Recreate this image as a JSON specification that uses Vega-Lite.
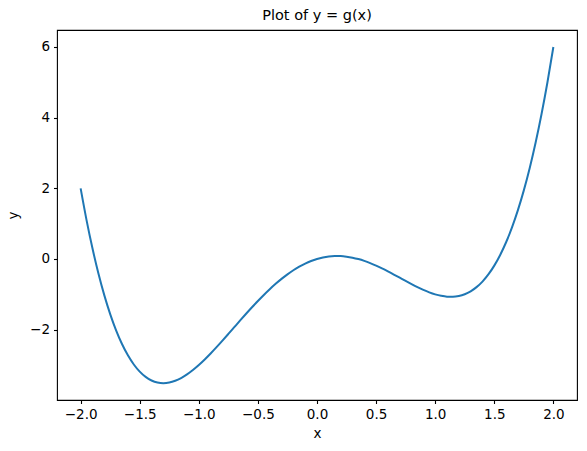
{
  "$schema": "https://vega.github.io/schema/vega-lite/v6.json",
  "width": 520,
  "height": 370,
  "autosize": {"type": "none"},
  "padding": {"left": 57, "top": 30, "right": 10, "bottom": 51},
  "title": {"text": "Plot of y = g(x)", "font": "DejaVu Sans", "fontSize": 14.5, "fontWeight": "normal", "color": "black", "offset": 7, "anchor": "middle"},
  "config": {
    "view": {"stroke": "black", "strokeWidth": 1.1},
    "axis": {
      "grid": false,
      "domain": false,
      "tickColor": "black",
      "tickSize": 3.5,
      "tickWidth": 1.1,
      "labelFont": "DejaVu Sans",
      "labelFontSize": 13.5,
      "labelColor": "black",
      "labelPadding": 4,
      "titleFont": "DejaVu Sans",
      "titleFontSize": 13.5,
      "titleFontWeight": "normal",
      "titleColor": "black"
    }
  },
  "data": {"values": [
    {"x": -2.00, "y": 2.0},
    {"x": -1.95, "y": 1.1015},
    {"x": -1.90, "y": 0.3021},
    {"x": -1.85, "y": -0.404},
    {"x": -1.80, "y": -1.0224},
    {"x": -1.75, "y": -1.5586},
    {"x": -1.70, "y": -2.0179},
    {"x": -1.65, "y": -2.4055},
    {"x": -1.60, "y": -2.7264},
    {"x": -1.55, "y": -2.9855},
    {"x": -1.50, "y": -3.1875},
    {"x": -1.45, "y": -3.337},
    {"x": -1.40, "y": -3.4384},
    {"x": -1.35, "y": -3.496},
    {"x": -1.30, "y": -3.5139},
    {"x": -1.25, "y": -3.4961},
    {"x": -1.20, "y": -3.4464},
    {"x": -1.15, "y": -3.3685},
    {"x": -1.10, "y": -3.2659},
    {"x": -1.05, "y": -3.142},
    {"x": -1.00, "y": -3.0},
    {"x": -0.95, "y": -2.843},
    {"x": -0.90, "y": -2.6739},
    {"x": -0.85, "y": -2.4955},
    {"x": -0.80, "y": -2.3104},
    {"x": -0.75, "y": -2.1211},
    {"x": -0.70, "y": -1.9299},
    {"x": -0.65, "y": -1.739},
    {"x": -0.60, "y": -1.5504},
    {"x": -0.55, "y": -1.366},
    {"x": -0.50, "y": -1.1875},
    {"x": -0.45, "y": -1.0165},
    {"x": -0.40, "y": -0.8544},
    {"x": -0.35, "y": -0.7025},
    {"x": -0.30, "y": -0.5619},
    {"x": -0.25, "y": -0.4336},
    {"x": -0.20, "y": -0.3184},
    {"x": -0.15, "y": -0.217},
    {"x": -0.10, "y": -0.1299},
    {"x": -0.05, "y": -0.0575},
    {"x": 0.00, "y": 0.0},
    {"x": 0.05, "y": 0.0425},
    {"x": 0.10, "y": 0.0701},
    {"x": 0.15, "y": 0.083},
    {"x": 0.20, "y": 0.0816},
    {"x": 0.25, "y": 0.0664},
    {"x": 0.30, "y": 0.0381},
    {"x": 0.35, "y": -0.0025},
    {"x": 0.40, "y": -0.0544},
    {"x": 0.45, "y": -0.1165},
    {"x": 0.50, "y": -0.1875},
    {"x": 0.55, "y": -0.266},
    {"x": 0.60, "y": -0.3504},
    {"x": 0.65, "y": -0.439},
    {"x": 0.70, "y": -0.5299},
    {"x": 0.75, "y": -0.6211},
    {"x": 0.80, "y": -0.7104},
    {"x": 0.85, "y": -0.7955},
    {"x": 0.90, "y": -0.8739},
    {"x": 0.95, "y": -0.943},
    {"x": 1.00, "y": -1.0},
    {"x": 1.05, "y": -1.042},
    {"x": 1.10, "y": -1.0659},
    {"x": 1.15, "y": -1.0685},
    {"x": 1.20, "y": -1.0464},
    {"x": 1.25, "y": -0.9961},
    {"x": 1.30, "y": -0.9139},
    {"x": 1.35, "y": -0.796},
    {"x": 1.40, "y": -0.6384},
    {"x": 1.45, "y": -0.437},
    {"x": 1.50, "y": -0.1875},
    {"x": 1.55, "y": 0.1145},
    {"x": 1.60, "y": 0.4736},
    {"x": 1.65, "y": 0.8945},
    {"x": 1.70, "y": 1.3821},
    {"x": 1.75, "y": 1.9414},
    {"x": 1.80, "y": 2.5776},
    {"x": 1.85, "y": 3.296},
    {"x": 1.90, "y": 4.1021},
    {"x": 1.95, "y": 5.0015},
    {"x": 2.00, "y": 6.0}
  ]},
  "mark": {"type": "line", "color": "#1f77b4", "strokeWidth": 2, "interpolate": "monotone"},
  "encoding": {
    "x": {
      "field": "x", "type": "quantitative",
      "scale": {"domain": [-2.2, 2.2], "nice": false, "zero": false},
      "axis": {"title": "x", "values": [-2, -1.5, -1, -0.5, 0, 0.5, 1, 1.5, 2], "format": ".1f", "titlePadding": 5}
    },
    "y": {
      "field": "y", "type": "quantitative",
      "scale": {"domain": [-3.99, 6.48], "nice": false, "zero": false},
      "axis": {"title": "y", "values": [-2, 0, 2, 4, 6], "format": "d", "titlePadding": 9}
    }
  }
}
